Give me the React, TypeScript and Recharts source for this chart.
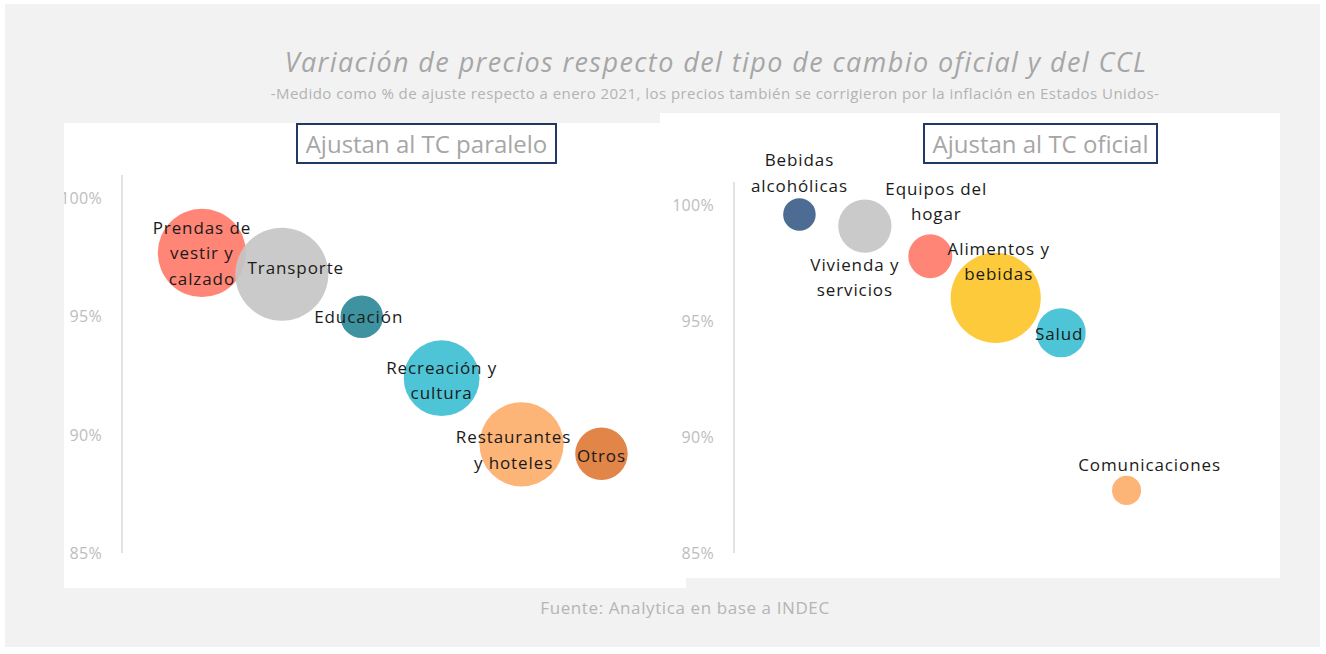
import React from 'react';
import { ScatterChart, Scatter, XAxis, YAxis, ZAxis, Cell } from 'recharts';

// Left panel: categories that follow the parallel exchange rate
const leftNames = ['Prendas de vestir y calzado', 'Transporte', 'Educación', 'Recreación y cultura', 'Restaurantes y hoteles', 'Otros'];
const leftPositions = [1, 2, 3, 4, 5, 6];
const leftValues = [97.7, 96.8, 95.0, 92.4, 89.6, 89.2];
const leftWeights = [9.9, 11.0, 2.3, 7.3, 9.0, 3.5];

// Right panel: categories that follow the official exchange rate
const rightNames = ['Bebidas alcohólicas', 'Vivienda y servicios', 'Equipos del hogar', 'Alimentos y bebidas', 'Salud', 'Comunicaciones'];
const rightPositions = [1, 2, 3, 4, 5, 6];
const rightValues = [99.6, 99.1, 97.8, 96.0, 94.5, 87.7];
const rightWeights = [3.5, 9.4, 6.4, 26.9, 8.0, 2.8];

const yTicks = [85, 90, 95, 100];

// styling kept apart from the data
const leftColors = ['#ff7b6b', '#c6c6c6', '#2f8a98', '#3fc0d4', '#fdae6b', '#de7b3a'];
const rightColors = ['#3d5f8a', '#c6c6c6', '#ff7b6b', '#fdc52b', '#3fc0d4', '#fdae6b'];

const leftLabelLines: Record<string, string[]> = {
  'Prendas de vestir y calzado': ['Prendas de', 'vestir y', 'calzado'],
  'Transporte': ['Transporte'],
  'Educación': ['Educación'],
  'Recreación y cultura': ['Recreación y', 'cultura'],
  'Restaurantes y hoteles': ['Restaurantes', 'y hoteles'],
  'Otros': ['Otros'],
};
const leftLabelShift: Record<string, [number, number]> = {
  'Prendas de vestir y calzado': [0, 0],
  'Transporte': [14, -7],
  'Educación': [-3, 0],
  'Recreación y cultura': [0, 2],
  'Restaurantes y hoteles': [-8, 5],
  'Otros': [0, 2],
};
const rightLabelLines: Record<string, string[]> = {
  'Bebidas alcohólicas': ['Bebidas', 'alcohólicas'],
  'Vivienda y servicios': ['Vivienda y', 'servicios'],
  'Equipos del hogar': ['Equipos del', 'hogar'],
  'Alimentos y bebidas': ['Alimentos y', 'bebidas'],
  'Salud': ['Salud'],
  'Comunicaciones': ['Comunicaciones'],
};
const rightLabelShift: Record<string, [number, number]> = {
  'Bebidas alcohólicas': [0, -42],
  'Vivienda y servicios': [-10, 51],
  'Equipos del hogar': [6, -55],
  'Alimentos y bebidas': [3, -37],
  'Salud': [-2, 1],
  'Comunicaciones': [23, -26],
};

const FONT = '"Open Sans", sans-serif';

const makeRows = (names: string[], xs: number[], ys: number[], ws: number[]) =>
  names.map((name, i) => ({ name, x: xs[i], y: ys[i], w: ws[i] }));

const leftData = makeRows(leftNames, leftPositions, leftValues, leftWeights);
const rightData = makeRows(rightNames, rightPositions, rightValues, rightWeights);

const makeLabelShape = (lines: Record<string, string[]>, shift: Record<string, [number, number]>) =>
  (props: any) => {
    const { cx, cy, payload } = props;
    const ls = lines[payload.name] || [payload.name];
    const [dx, dy] = shift[payload.name] || [0, 0];
    const lh = 25.5;
    return (
      <g>
        {ls.map((t, i) => (
          <text
            key={i}
            x={cx + dx}
            y={cy + dy + (i - (ls.length - 1) / 2) * lh}
            textAnchor="middle"
            dominantBaseline="central"
            fill="#1a1a1a"
            fontSize={17}
            letterSpacing={0.9}
            fontFamily={FONT}
          >
            {t}
          </text>
        ))}
      </g>
    );
  };

interface PanelProps {
  data: { name: string; x: number; y: number; w: number }[];
  colors: string[];
  width: number;
  height: number;
  margin: { top: number; right: number; bottom: number; left: number };
  yWidth: number;
  xMax: number;
  zRange: [number, number];
  labelShape: (p: any) => React.ReactElement;
}

const Panel = ({ data, colors, width, height, margin, yWidth, xMax, zRange, labelShape }: PanelProps) => (
  <ScatterChart width={width} height={height} margin={margin}>
    <XAxis
      type="number"
      dataKey="x"
      domain={[0, xMax]}
      tick={false}
      tickLine={false}
      height={0}
      axisLine={{ stroke: '#d9d9d9', strokeWidth: 1.5 }}
    />
    <YAxis
      type="number"
      dataKey="y"
      domain={[85, 101]}
      ticks={yTicks}
      width={yWidth}
      tickLine={false}
      tickMargin={14}
      tickFormatter={(v: number) => `${v}%`}
      axisLine={{ stroke: '#d9d9d9', strokeWidth: 1.5 }}
      tick={{ fill: '#bdbdbd', fontSize: 16, fontFamily: FONT, letterSpacing: 0.3 }}
    />
    <ZAxis type="number" dataKey="w" domain={[0, 30]} range={zRange} />
    <Scatter data={data} isAnimationActive={false} fillOpacity={0.92}>
      {data.map((d, i) => (
        <Cell key={d.name} fill={colors[i]} />
      ))}
    </Scatter>
    <Scatter data={data} isAnimationActive={false} shape={labelShape} />
  </ScatterChart>
);

const boxStyle = (left: number, top: number, w: number, h: number): React.CSSProperties => ({
  position: 'absolute',
  left,
  top,
  width: w,
  height: h,
  boxSizing: 'border-box',
  border: '2px solid #1f3864',
  background: '#fff',
  color: '#a6a6a6',
  fontFamily: FONT,
  fontSize: 24,
  lineHeight: `${h - 4}px`,
  textAlign: 'center',
  whiteSpace: 'nowrap',
});

const textStyle = (top: number, size: number, color: string, extra: React.CSSProperties = {}): React.CSSProperties => ({
  position: 'absolute',
  left: 0,
  width: 1326,
  top,
  height: 30,
  lineHeight: '30px',
  textAlign: 'center',
  fontFamily: FONT,
  fontSize: size,
  color,
  whiteSpace: 'nowrap',
  ...extra,
});

export default function App() {
  return (
    <div style={{ position: 'absolute', left: 0, top: 0, width: 1326, height: 654, background: '#fff', overflow: 'hidden' }}>
      <div style={{ position: 'absolute', left: 5, top: 4, width: 1315, height: 643, background: '#f2f2f2' }} />
      <div style={{ ...textStyle(47, 27, '#a6a6a6', { fontStyle: 'italic', letterSpacing: 1.4 }), left: 53 }}>
        Variación de precios respecto del tipo de cambio oficial y del CCL
      </div>
      <div style={{ ...textStyle(78, 15, '#b3b3b3', { letterSpacing: 0.45 }), left: 52 }}>
        -Medido como % de ajuste respecto a enero 2021, los precios también se corrigieron por la inflación en Estados Unidos-
      </div>

      <div style={{ position: 'absolute', left: 64, top: 123, width: 622, height: 465, background: '#fff' }}>
        <Panel
          data={leftData}
          colors={leftColors}
          width={622}
          height={465}
          margin={{ top: 52, right: 31, bottom: 35, left: 0 }}
          yWidth={58}
          xMax={6.67}
          zRange={[0, 18528]}
          labelShape={makeLabelShape(leftLabelLines, leftLabelShift)}
        />
      </div>
      <div style={{ position: 'absolute', left: 660, top: 113, width: 620, height: 465, background: '#fff' }}>
        <Panel
          data={rightData}
          colors={rightColors}
          width={620}
          height={465}
          margin={{ top: 69, right: 18, bottom: 25, left: 0 }}
          yWidth={74}
          xMax={8.07}
          zRange={[0, 7116]}
          labelShape={makeLabelShape(rightLabelLines, rightLabelShift)}
        />
      </div>

      <div style={boxStyle(296, 123, 261, 41)}>Ajustan al TC paralelo</div>
      <div style={boxStyle(923, 123, 235, 41)}>Ajustan al TC oficial</div>

      <div style={{ ...textStyle(593, 17, '#b5b5b5', { letterSpacing: 0.6 }), left: 22 }}>Fuente: Analytica en base a INDEC</div>
    </div>
  );
}
